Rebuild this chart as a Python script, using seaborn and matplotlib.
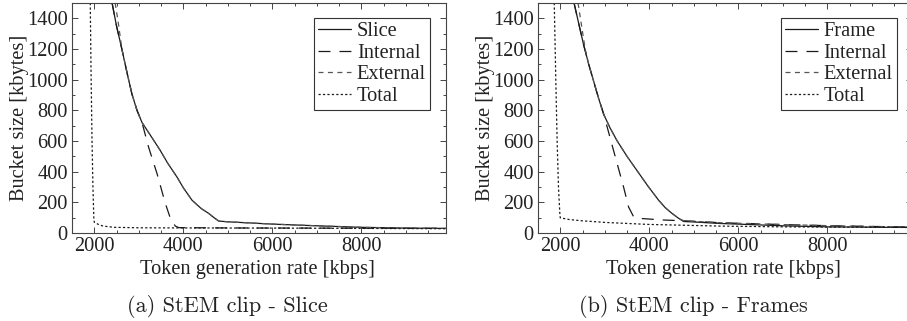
import matplotlib
matplotlib.use("Agg")
import matplotlib.pyplot as plt
from matplotlib.ticker import MultipleLocator
import seaborn as sns
import pandas as pd

# ---- data: token-bucket size vs. token generation rate ----
# (a) Slice
slice_x = [2400, 2500, 2622, 2740, 2847, 2960, 3072, 3300, 3483, 3650, 3858, 4000, 4195,
           4400, 4569, 4700, 4794, 5000, 6000, 7000, 8000, 9000, 9900]
slice_y = [1500, 1350, 1197, 1040, 905, 800, 721, 620, 538, 455, 365, 295, 214,
           160, 128, 98, 78, 73, 58, 47, 37, 32, 30]
slice_int_x = [2400, 2500, 2622, 2740, 2847, 2960, 3072, 3221, 3409, 3596, 3708, 3820, 3900,
               5000, 7000, 9900]
slice_int_y = [1500, 1350, 1197, 1040, 905, 800, 721, 559, 388, 193, 97, 45, 35,
               33, 32, 30]
slice_ext_x = [2470, 2540, 2622, 2740, 2847, 2960, 3072, 3300, 3483, 3650, 3858, 4000, 4195,
               4400, 4569, 4700, 4794, 5000, 6000, 7000, 8000, 9000, 9900]
slice_ext_y = [1500, 1370, 1197, 1040, 905, 800, 721, 620, 538, 455, 365, 295, 214,
               160, 128, 98, 78, 73, 58, 47, 37, 32, 30]
slice_tot_x = [1910, 1930, 1950, 1970, 1990, 2000, 2100, 2200, 2450, 3000, 4000, 6000, 8000, 9900]
slice_tot_y = [1500, 1000, 600, 300, 100, 70, 55, 45, 37, 34, 33, 32, 30, 28]

# (b) Frames
frame_x = [2310, 2420, 2524, 2640, 2749, 2860, 2973, 3120, 3274, 3500, 3723, 3960, 4210,
           4360, 4510, 4650, 4771, 5000, 5600, 6000, 7000, 8000, 9348, 9900]
frame_y = [1500, 1360, 1229, 1100, 991, 880, 776, 685, 603, 500, 408, 310, 214,
           165, 128, 98, 75, 72, 62, 58, 47, 40, 37, 36]
frame_int_x = [2310, 2420, 2524, 2640, 2749, 2860, 2966, 3198, 3423, 3535, 3650, 3800, 4300,
               4750, 5596, 7000, 8000, 9348, 9900]
frame_int_y = [1500, 1360, 1229, 1100, 991, 880, 786, 538, 300, 170, 105, 95, 85,
               80, 67, 55, 48, 41, 39]
frame_ext_x = [2400, 2480, 2560, 2640, 2749, 2860, 2973, 3120, 3274, 3500, 3723, 3960, 4210,
               4360, 4510, 4650, 4771, 5596, 7000, 8000, 9348, 9900]
frame_ext_y = [1500, 1350, 1200, 1100, 991, 880, 776, 685, 603, 500, 408, 310, 214,
               165, 128, 98, 80, 67, 55, 48, 41, 39]
frame_tot_x = [1865, 1900, 1930, 1960, 1990, 2000, 2200, 2472, 3004, 3978, 5596, 7000, 9800]
frame_tot_y = [1500, 1000, 600, 300, 130, 99, 88, 80, 69, 56, 45, 40, 37]

# ---- style ----
sns.set_style("ticks")
plt.rcParams["font.family"] = ["Liberation Serif", "DejaVu Serif"]
plt.rcParams["lines.scale_dashes"] = False
plt.rcParams["xtick.direction"] = "in"
plt.rcParams["ytick.direction"] = "in"

TXT = "#222222"
SPINE = "#444444"
FS = 14.7

styles = {
    "main": dict(color="#1a1a1a", linestyle="-", lw=0.9),
    "Internal": dict(color="#1a1a1a", linestyle=(0, (8.6, 6.5)), lw=0.9),
    "External": dict(color="#555555", linestyle=(0, (3.6, 3.2)), lw=0.9),
    "Total": dict(color="#1a1a1a", linestyle=(0, (1.6, 1.6)), lw=0.9),
}

fig = plt.figure(figsize=(9.07, 3.21), dpi=100)
W, H = 907, 321
ax_a = fig.add_axes([72 / W, (321 - 233) / H, 374 / W, 230 / H])
ax_b = fig.add_axes([538 / W, (321 - 233) / H, 373.8 / W, 230 / H])


def draw(ax, series, legend_x):
    for label, key, xs, ys in series:
        df = pd.DataFrame({"x": xs, "y": ys})
        sns.lineplot(data=df, x="x", y="y", ax=ax, sort=False, estimator=None,
                     label=label, **styles[key])
    ax.set_xlim(1500, 9900)
    ax.set_ylim(0, 1500)
    ax.xaxis.set_major_locator(MultipleLocator(2000))
    ax.xaxis.set_minor_locator(MultipleLocator(500))
    ax.yaxis.set_minor_locator(MultipleLocator(100))
    ax.set_yticks([0, 200, 400, 600, 800, 1000, 1200, 1400])
    ax.tick_params(which="both", top=True, right=True, color=SPINE, width=0.7,
                   labelsize=FS, labelcolor=TXT)
    ax.tick_params(which="major", length=4, pad=3)
    ax.tick_params(which="minor", length=2.5)
    for s in ax.spines.values():
        s.set_color(SPINE)
        s.set_linewidth(0.8)
    ax.set_xlabel("Token generation rate [kbps]", fontsize=FS, color=TXT)
    ax.set_ylabel("Bucket size [kbytes]", fontsize=FS, color=TXT)
    ax.xaxis.set_label_coords(0.497, -0.118)
    ax.yaxis.set_label_coords(-0.116, 0.5)
    leg = ax.legend(loc="upper right", bbox_to_anchor=(legend_x, 0.935),
                    borderaxespad=0, fontsize=FS, frameon=True, fancybox=False,
                    handlelength=1.6, handletextpad=0.3, labelspacing=0.11,
                    borderpad=0.2, edgecolor="#333333", framealpha=1)
    leg.get_frame().set_linewidth(0.8)
    for t in leg.get_texts():
        t.set_color(TXT)


draw(ax_a, [
    ("Slice", "main", slice_x, slice_y),
    ("Internal", "Internal", slice_int_x, slice_int_y),
    ("External", "External", slice_ext_x, slice_ext_y),
    ("Total", "Total", slice_tot_x, slice_tot_y),
], 0.957)

draw(ax_b, [
    ("Frame", "main", frame_x, frame_y),
    ("Internal", "Internal", frame_int_x, frame_int_y),
    ("External", "External", frame_ext_x, frame_ext_y),
    ("Total", "Total", frame_tot_x, frame_tot_y),
], 0.960)

cap = dict(fontsize=16, color=TXT, ha="center", va="center", family=["cmr10", "DejaVu Serif"])
fig.text(227 / W, 1 - 306 / H, "(a) StEM clip - Slice", **cap)
fig.text(693 / W, 1 - 306 / H, "(b) StEM clip - Frames", **cap)

fig.savefig("out.png", dpi=100)
